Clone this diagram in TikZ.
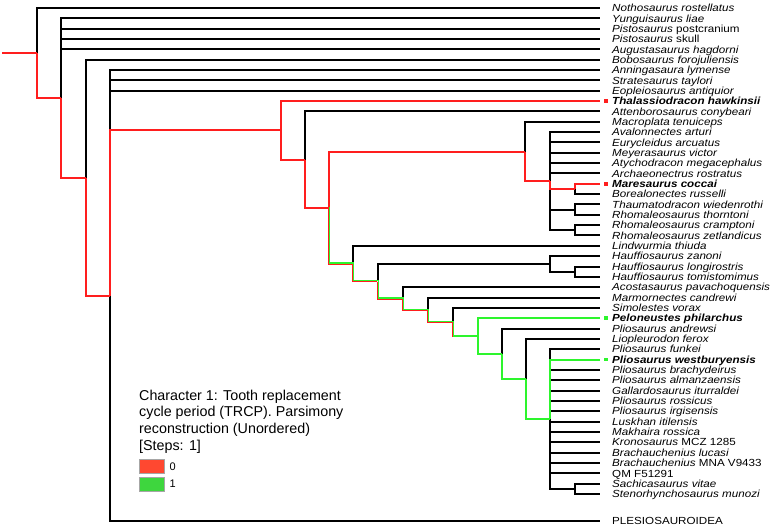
\documentclass[tikz,border=0pt]{standalone}
\usepackage{fontspec}
\setmainfont{Liberation Sans}
\usepackage{graphicx}
\usetikzlibrary{positioning}
\definecolor{brred}{RGB}{255,30,30}
\definecolor{brgreen}{RGB}{45,245,45}
\definecolor{keyred}{RGB}{255,72,48}
\definecolor{keygreen}{RGB}{62,214,62}
\newcommand{\lab}[1]{\scalebox{1.13}[1]{#1}}
\tikzset{
  br/.style={line width=2pt},
  red0/.style={br,brred},
  green1/.style={br,brgreen},
  amb0/.style={line width=1.1pt,brred,transform canvas={xshift=-.55pt,yshift=-.55pt}},
  amb1/.style={line width=1.1pt,brgreen,transform canvas={xshift=.55pt,yshift=.55pt}},
  leaf/.style={anchor=base west,inner sep=0,font=\fontsize{10.3}{11}\selectfont\itshape},
  tipsq/.style={inner sep=0,minimum size=3.5pt},
  keytext/.style={anchor=north west,align=left,inner sep=0,font=\fontsize{14.3}{16.7}\selectfont},
  keybox/.style={draw=gray!70,line width=.6pt,minimum width=25pt,minimum height=14pt,inner sep=0},
  keylab/.style={inner sep=0,font=\fontsize{11}{12}\selectfont}
}
\begin{document}
\begin{tikzpicture}[x=1pt,y=-1pt]
\useasboundingbox (0,0) rectangle (777,531);
\foreach \n/\t [count=\i] in {nothos/Nothosaurus rostellatus,yungui/Yunguisaurus liae,
  pistoP/Pistosaurus \textup{postcranium},pistoS/Pistosaurus \textup{skull},august/Augustasaurus hagdorni,
  bobo/Bobosaurus forojuliensis,anning/Anningasaura lymense,strat/Stratesaurus taylori,
  eopleio/Eopleiosaurus antiquior,thalas/\textbf{Thalassiodracon hawkinsii},attenb/Attenborosaurus conybeari,
  macro/Macroplata tenuiceps,avalon/Avalonnectes arturi,euryc/Eurycleidus arcuatus,meyer/Meyerasaurus victor,
  atych/Atychodracon megacephalus,archae/Archaeonectrus rostratus,mares/\textbf{Maresaurus coccai},
  boreal/Borealonectes russelli,thaum/Thaumatodracon wiedenrothi,rhomT/Rhomaleosaurus thorntoni,
  rhomC/Rhomaleosaurus cramptoni,rhomZ/Rhomaleosaurus zetlandicus,lindw/Lindwurmia thiuda,
  haufZ/Hauffiosaurus zanoni,haufL/Hauffiosaurus longirostris,haufT/Hauffiosaurus tomistomimus,
  acost/Acostasaurus pavachoquensis,marmor/Marmornectes candrewi,simol/Simolestes vorax,
  pelon/\textbf{Peloneustes philarchus},plioA/Pliosaurus andrewsi,liopl/Liopleurodon ferox,
  plioF/Pliosaurus funkei,plioW/\textbf{Pliosaurus westburyensis},plioB/Pliosaurus brachydeirus,
  plioAl/Pliosaurus almanzaensis,gallard/Gallardosaurus iturraldei,plioR/Pliosaurus rossicus,
  plioI/Pliosaurus irgisensis,luskh/Luskhan itilensis,makh/Makhaira rossica,
  krono/Kronosaurus \textup{MCZ 1285},brachL/Brachauchenius lucasi,brachM/Brachauchenius \textup{MNA V9433},
  qm/\textup{QM F51291},sachi/Sachicasaurus vitae,steno/Stenorhynchosaurus munozi}{
  \coordinate (\n) at (600,{8+(\i-1)*10.34});
  \node[leaf] (\n-t) at (612,{11.7+(\i-1)*10.34}) {\lab{\t}};
}
\coordinate (plesio) at (600,521);
\node[leaf,font=\fontsize{10.3}{11}\selectfont] (plesio-t) at (612,524.7) {\lab{PLESIOSAUROIDEA}};
\coordinate (start) at (2,53);
\coordinate (root) at (37,53);
\coordinate (nA) at (61,98);
\coordinate (nB) at (86,177.6);
\coordinate (nC) at (110,295.5);
\coordinate (nD) at (281,130.3);
\coordinate (nE) at (305,159.5);
\coordinate (nF) at (329,207.5);
\coordinate (nG) at (525,151.5);
\coordinate (nI) at (550,181.2);
\coordinate (nJ) at (575,189);
\coordinate (nK) at (575,209.6);
\coordinate (nL) at (575,230.3);
\coordinate (nH) at (353,263.5);
\coordinate (nN) at (378,281.2);
\coordinate (nP) at (550,263.9);
\coordinate (nQ) at (575,271.7);
\coordinate (nR) at (403,298.5);
\coordinate (nS) at (428,309.7);
\coordinate (nT) at (453,321.9);
\coordinate (nU) at (478,336);
\coordinate (nV) at (502,353.8);
\coordinate (nW) at (526,379);
\coordinate (nX) at (550,419);
\coordinate (nY) at (575,488.8);
\foreach \p/\c in {root/nothos,nA/yungui,nA/pistoP,nA/pistoS,nA/august,nB/bobo,nC/anning,nC/strat,
  nC/eopleio,nC/plesio,nE/attenb,nG/macro,nI/avalon,nI/euryc,nI/meyer,nI/atych,nI/archae,nI/nK,nI/nL,
  nJ/boreal,nK/thaum,nK/rhomT,nL/rhomC,nL/rhomZ,nH/lindw,nN/nP,nP/haufZ,nP/nQ,nQ/haufL,nQ/haufT,
  nR/acost,nS/marmor,nT/simol,nV/plioA,nW/liopl,nX/plioF,nX/plioB,nX/plioAl,nX/gallard,nX/plioR,
  nX/plioI,nX/luskh,nX/makh,nX/krono,nX/brachL,nX/brachM,nX/qm,nX/nY,nY/sachi,nY/steno}
  \draw[br] (\p) |- (\c);
\draw[red0] (start) -- (root);
\foreach \p/\c in {root/nA,nA/nB,nB/nC,nC/nD,nD/thalas,nD/nE,nE/nF,nF/nG,nG/nI,nI/nJ,nJ/mares}
  \draw[red0] (\p) |- (\c);
\foreach \p/\c in {nF/nH,nH/nN,nN/nR,nR/nS,nS/nT}{
  \draw[amb0] (\p) |- (\c);
  \draw[amb1] (\p) |- (\c);
}
\draw[amb0] (nT) -- (nT |- nU);
\draw[amb1] (nT) -- (nT |- nU);
\draw[green1] (nT |- nU) -- (nU);
\foreach \p/\c in {nU/pelon,nU/nV,nV/nW,nW/nX,nX/plioW}
  \draw[green1] (\p) |- (\c);
\node[tipsq,fill=brred] (thalas-m) at ([xshift=6pt]thalas) {};
\node[tipsq,fill=brred] (mares-m) at ([xshift=6pt]mares) {};
\node[tipsq,fill=brgreen] (pelon-m) at ([xshift=6pt]pelon) {};
\node[tipsq,fill=brgreen] (plioW-m) at ([xshift=6pt]plioW) {};
\node[keytext] (legend) at (139,389.5) {Character 1: Tooth replacement\\cycle period (TRCP). Parsimony\\reconstruction (Unordered)\\{}[Steps: 1]};
\node[keybox,fill=keyred] (key0) at (151.5,466.3) {};
\node[keybox,fill=keygreen,below=3pt of key0] (key1) {};
\node[keylab,right=5pt of key0] (key0-t) {0};
\node[keylab,right=5pt of key1] (key1-t) {1};
\end{tikzpicture}
\end{document}
